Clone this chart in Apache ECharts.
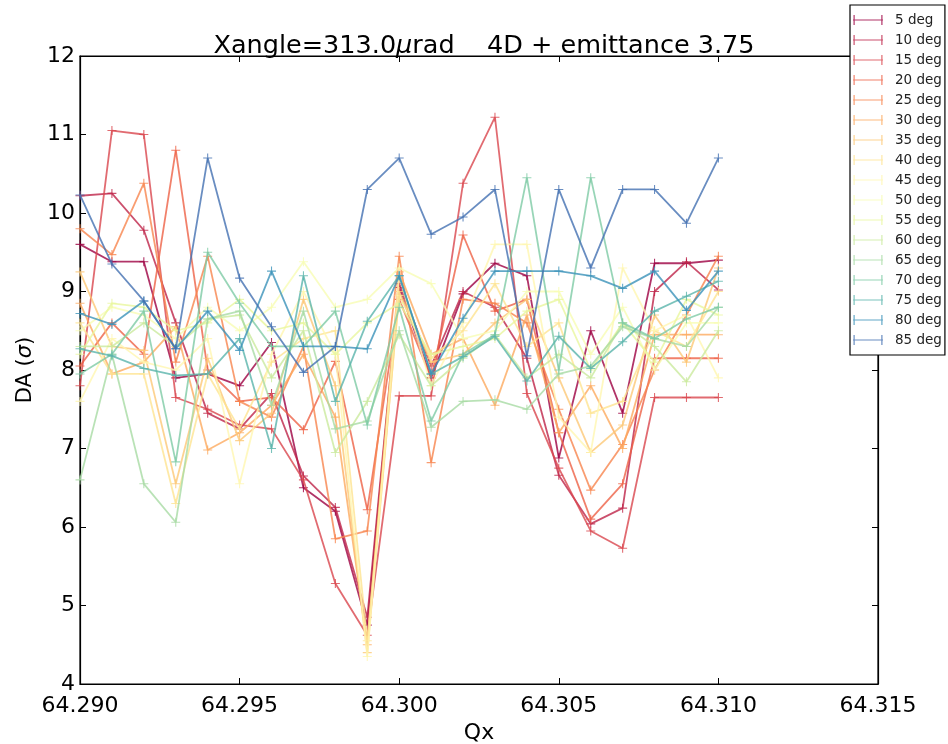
<!DOCTYPE html>
<html>
<head>
<meta charset="utf-8">
<script src="https://cdn.jsdelivr.net/npm/echarts@6/dist/echarts.min.js"></script>
<style>html,body{margin:0;padding:0;background:#fff}#c{width:948px;height:744px}</style>
</head>
<body>
<div id="c"></div>
<script>
// ---- data ----
const qx = [64.290, 64.291, 64.292, 64.293, 64.294, 64.295, 64.296, 64.297, 64.298, 64.299, 64.300,
            64.301, 64.302, 64.303, 64.304, 64.305, 64.306, 64.307, 64.308, 64.309, 64.310];
const seriesNames = ['5 deg','10 deg','15 deg','20 deg','25 deg','30 deg','35 deg','40 deg','45 deg',
                     '50 deg','55 deg','60 deg','65 deg','70 deg','75 deg','80 deg','85 deg'];
const da05 = [9.60, 9.38, 9.38, 7.90, 7.95, 7.80, 8.35, 6.50, 6.20, 4.75, 9.05, 7.90, 8.97, 9.36, 9.20, 6.88, 8.50, 7.45, 9.36, 9.36, 9.40];
const da10 = [10.22, 10.25, 9.78, 8.60, 7.45, 7.25, 7.70, 6.65, 6.25, 4.85, 9.10, 8.05, 9.00, 8.80, 8.15, 6.66, 6.04, 6.24, 9.00, 9.38, 9.02];
const da15 = [7.80, 11.05, 11.00, 7.65, 7.50, 7.30, 7.25, 6.60, 5.28, 4.62, 7.67, 7.67, 10.38, 11.22, 7.70, 6.75, 5.95, 5.73, 7.65, 7.65, 7.65];
const da20 = [8.05, 8.60, 8.20, 10.80, 8.00, 7.60, 7.65, 7.24, 8.11, 6.22, 8.90, 7.90, 9.72, 8.75, 8.90, 7.20, 6.10, 6.55, 8.15, 8.15, 8.15];
const da25 = [9.80, 9.47, 10.38, 8.10, 9.45, 7.60, 7.40, 8.30, 5.85, 5.95, 9.45, 6.82, 8.90, 8.85, 8.60, 7.50, 6.47, 7.05, 8.00, 8.70, 9.45];
const da30 = [8.85, 7.95, 8.10, 8.55, 6.98, 7.20, 7.55, 8.20, 7.40, 4.50, 9.25, 8.20, 8.40, 7.55, 8.70, 7.20, 7.80, 7.00, 8.45, 8.45, 8.45];
const da35 = [9.25, 8.30, 8.25, 6.55, 8.15, 7.10, 7.45, 8.90, 7.80, 4.40, 9.00, 8.10, 8.20, 8.60, 8.90, 7.90, 6.95, 7.30, 8.70, 8.10, 9.30];
const da40 = [8.60, 7.95, 7.95, 6.30, 7.95, 7.25, 8.10, 8.40, 8.50, 4.55, 8.95, 8.15, 8.50, 9.10, 8.30, 8.60, 7.45, 7.60, 8.50, 8.30, 9.00];
const da45 = [7.60, 8.40, 8.10, 8.00, 8.40, 6.55, 8.20, 9.00, 8.20, 4.35, 9.20, 7.80, 8.60, 9.60, 9.60, 7.40, 6.95, 9.30, 8.50, 8.70, 7.90];
const da50 = [8.50, 8.80, 8.70, 8.40, 8.80, 8.50, 8.80, 9.38, 8.80, 8.90, 9.30, 9.10, 8.40, 8.50, 9.00, 9.00, 8.20, 8.80, 8.00, 8.60, 8.60];
const da55 = [8.20, 8.85, 8.80, 8.50, 8.60, 8.90, 8.50, 8.60, 8.20, 8.60, 8.85, 8.20, 8.30, 8.40, 8.75, 8.90, 8.00, 8.60, 8.10, 8.90, 8.70];
const da60 = [8.30, 8.30, 8.60, 8.30, 8.65, 8.70, 7.90, 8.50, 6.95, 7.60, 8.45, 7.80, 8.15, 8.45, 7.90, 8.20, 7.90, 8.60, 8.30, 7.85, 8.50];
const da65 = [6.60, 8.20, 6.55, 6.06, 8.65, 8.75, 7.55, 8.75, 7.25, 7.35, 8.50, 7.27, 7.60, 7.62, 7.50, 7.95, 8.05, 8.55, 8.40, 8.30, 8.80];
const da70 = [7.95, 8.20, 8.75, 6.83, 9.50, 8.85, 8.30, 8.30, 8.75, 7.30, 8.80, 7.35, 8.20, 8.45, 10.45, 8.00, 10.45, 8.60, 8.40, 8.65, 8.80];
const da75 = [8.27, 8.18, 8.02, 7.93, 7.95, 8.40, 7.00, 9.20, 7.60, 8.62, 9.20, 7.95, 8.17, 8.43, 7.86, 8.43, 8.02, 8.36, 8.75, 8.94, 9.13];
const da80 = [8.72, 8.58, 8.88, 8.27, 8.75, 8.25, 9.26, 8.30, 8.30, 8.27, 9.20, 7.95, 8.66, 9.26, 9.26, 9.26, 9.20, 9.04, 9.26, 8.76, 9.26];
const da85 = [10.23, 9.35, 8.88, 8.27, 10.70, 9.17, 8.55, 7.97, 8.30, 10.30, 10.70, 9.73, 9.95, 10.30, 8.18, 10.30, 9.30, 10.30, 10.30, 9.87, 10.70];
const xTicks = [64.290, 64.295, 64.300, 64.305, 64.310, 64.315];
const yTicks = [4, 5, 6, 7, 8, 9, 10, 11, 12];

const allDA = [da05, da10, da15, da20, da25, da30, da35, da40, da45, da50, da55, da60, da65, da70, da75, da80, da85];
const colors = ['#9e0142','#be2449','#da464d','#ed6246','#f7844d','#fcaa5f','#fdc877','#fee491','#fff6b0',
                '#f8fcb4','#e9f69d','#caea9e','#a7dba4','#7ecba5','#5ab4ab','#3b92b9','#4471b2'];

const FONT = 'DejaVu Sans';
const plusSym = 'path://M4.4,0h1.2v10h-1.2z M0,4.4h10v1.2h-10z';
const legendIcon = 'path://M0,4.4h30v1.2h-30z M0.5,0h1.2v10h-1.2z M28.3,0h1.2v10h-1.2z';

const series = allDA.map((arr, k) => ({
  name: seriesNames[k],
  type: 'line',
  xAxisIndex: 0, yAxisIndex: 0,
  data: arr.map((v, i) => [qx[i], v]),
  symbol: plusSym,
  symbolSize: 9,
  showSymbol: true,
  lineStyle: { width: 1.8, color: colors[k], opacity: 0.8 },
  itemStyle: { color: colors[k], opacity: 0.8 },
  emphasis: { disabled: true },
  animation: false,
  z: 2 + k
}));

const chart = echarts.init(document.getElementById('c'), null, { renderer: 'canvas' });
const axisCommon = {
  axisLine: { show: true, lineStyle: { color: '#000', width: 1.2 } },
  axisTick: { show: true, inside: true, length: 6, lineStyle: { color: '#000', width: 1 } },
  splitLine: { show: false }
};
chart.setOption({
  backgroundColor: '#fff',
  animation: false,
  textStyle: { fontFamily: FONT },
  title: {
    text: 'Xangle=313.0{i|μ}rad    4D + emittance 3.75',
    left: 479, top: 28, textAlign: 'center',
    textStyle: {
      fontFamily: FONT, fontSize: 25.5, fontWeight: 'normal', color: '#000',
      rich: { i: { fontFamily: FONT, fontSize: 25.5, fontStyle: 'italic', color: '#000' } }
    }
  },
  grid: { left: 80, right: 70, top: 56, bottom: 60, containLabel: false, outerBoundsMode: 'none',
          show: true, borderColor: '#000', borderWidth: 1.2, backgroundColor: 'transparent' },
  legend: {
    orient: 'vertical', left: 850, top: 5,
    data: seriesNames,
    icon: legendIcon,
    itemWidth: 30, itemHeight: 10, itemGap: 6,
    padding: [8, 3, 8, 3],
    borderColor: '#000', borderWidth: 1.2, backgroundColor: '#fff',
    textStyle: { fontFamily: FONT, fontSize: 13.5, lineHeight: 14, color: '#222', padding: [0, 0, 0, 7] },
    selectedMode: false,
    z: 20
  },
  xAxis: [
    Object.assign({}, axisCommon, {
      type: 'value', position: 'bottom', min: xTicks[0], max: xTicks[xTicks.length - 1], interval: 0.005,
      axisLabel: { fontFamily: FONT, fontSize: 22, color: '#000', margin: 11, formatter: v => v.toFixed(3) },
      name: 'Qx', nameLocation: 'middle', nameGap: 36,
      nameTextStyle: { fontFamily: FONT, fontSize: 22, color: '#000' }
    }),
    Object.assign({}, axisCommon, {
      type: 'value', position: 'top', min: xTicks[0], max: xTicks[xTicks.length - 1], interval: 0.005,
      axisLabel: { show: false }
    })
  ],
  yAxis: [
    Object.assign({}, axisCommon, {
      type: 'value', position: 'left', min: yTicks[0], max: yTicks[yTicks.length - 1], interval: 1,
      axisLabel: { fontFamily: FONT, fontSize: 22, color: '#000', margin: 5 },
      name: 'DA ({i|σ})', nameLocation: 'middle', nameGap: 36, nameRotate: 90,
      nameTextStyle: { fontFamily: FONT, fontSize: 21, color: '#000',
        rich: { i: { fontFamily: FONT, fontSize: 21, fontStyle: 'italic', color: '#000' } } }
    }),
    Object.assign({}, axisCommon, {
      type: 'value', position: 'right', min: yTicks[0], max: yTicks[yTicks.length - 1], interval: 1,
      axisLabel: { show: false }
    })
  ],
  series: series
});
</script>
</body>
</html>
